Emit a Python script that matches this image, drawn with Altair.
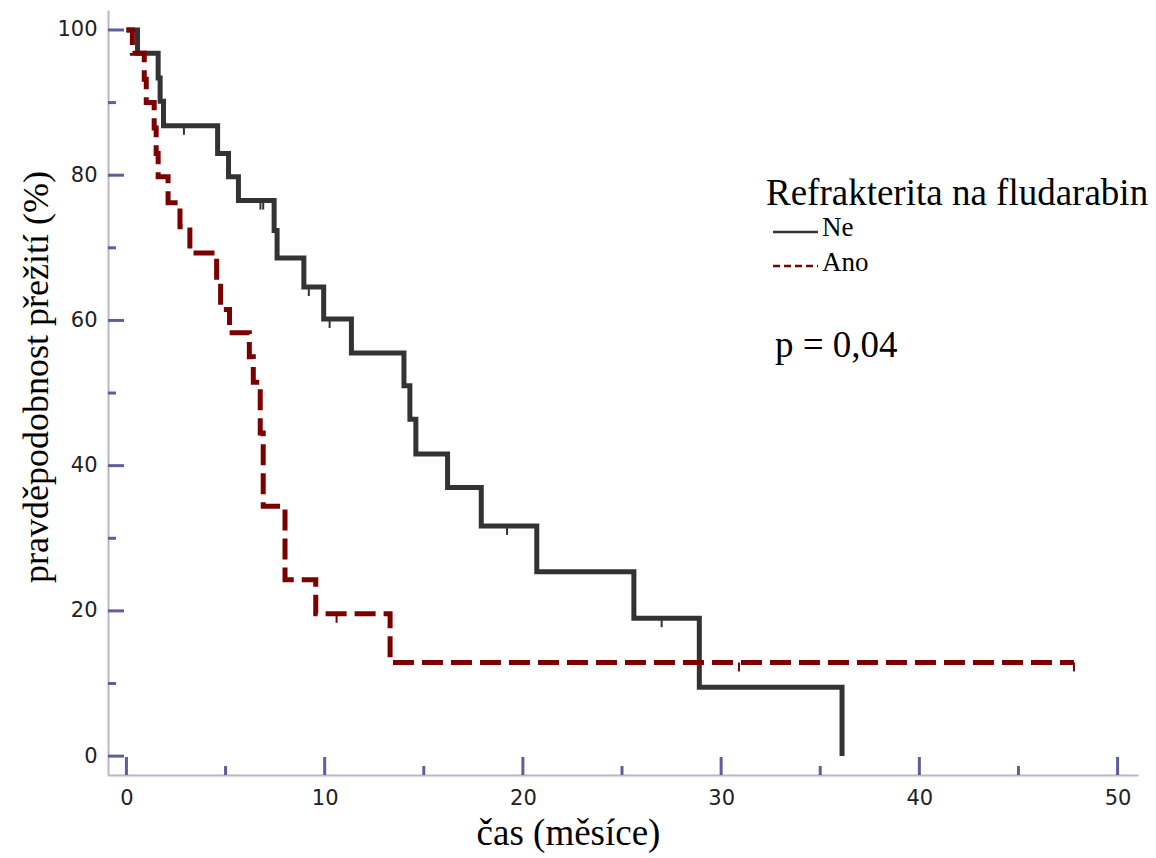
import altair as alt
import pandas as pd

# Kaplan-Meier curves: step times (months) and survival (%) after each step
ne_time = [0, 0.56, 1.6, 1.7, 1.87, 4.6, 5.15, 5.65, 7.45, 7.6, 8.95, 9.95,
           11.35, 14.0, 14.3, 14.6, 16.2, 17.9, 20.7, 25.6, 28.9, 36.1]
ne_surv = [100, 96.8, 93.4, 90.2, 86.8, 83.0, 79.8, 76.5, 72.4, 68.6, 64.6, 60.2,
           55.5, 51.0, 46.4, 41.6, 37.0, 31.7, 25.4, 19.0, 9.5, 0]

ano_time = [0, 0.3, 0.9, 1.0, 1.4, 1.5, 1.6, 2.1, 2.7, 3.2, 4.55, 4.75, 5.2,
            6.2, 6.4, 6.75, 6.9, 8.0, 9.55, 13.3, 47.8]
ano_surv = [100, 96.8, 93.2, 90.0, 86.5, 83.0, 79.8, 76.2, 72.9, 69.3, 65.2, 61.5, 58.3,
            55.0, 51.5, 44.5, 34.4, 24.3, 19.6, 12.9, 12.9]

# censored observations
ne_cens_time = [2.9, 6.76, 6.9, 9.2, 10.25, 19.2, 27.0]
ne_cens_surv = [86.8, 76.5, 76.5, 64.6, 60.2, 31.7, 19.0]
ano_cens_time = [10.6, 30.9, 47.8]
ano_cens_surv = [19.6, 12.9, 12.9]

group_labels = ["Ne", "Ano"]

x_major = [0, 10, 20, 30, 40, 50]
x_minor = [5, 15, 25, 35, 45]
y_major = [0, 20, 40, 60, 80, 100]
y_minor = [10, 30, 50, 70, 90]

W, H = 1030, 765
NE_COLOR = "#333333"
ANO_COLOR = "#7b0000"
TICK_COLOR = "#5e5e9e"
SERIF = "Liberation Serif"

xscale = alt.Scale(domain=[-0.93, 51.03], nice=False, zero=False)
yscale = alt.Scale(domain=[-2.6, 102.75], nice=False, zero=False)

xaxis = alt.Axis(
    values=x_major, title="čas (měsíce)", grid=False, ticks=False, tickSize=0,
    domainColor="#b8b8c8", domainWidth=2,
    labelFont="DejaVu Sans", labelFontSize=21, labelColor="#222222", labelPadding=12,
    labelFlush=False,
    titleFont=SERIF, titleFontSize=37, titleFontWeight="normal", titleColor="black",
    titleX=460, titleY=69, titleAlign="center", titleBaseline="alphabetic",
)
yaxis = alt.Axis(
    values=y_major, title=None, grid=False, ticks=False, tickSize=0,
    domainColor="#b8b8c8", domainWidth=2,
    labelFont="DejaVu Sans", labelFontSize=21, labelColor="#222222", labelPadding=11,
    labelFlush=False,
)

X = lambda: alt.X("t:Q", scale=xscale, axis=xaxis)
Y = lambda: alt.Y("s:Q", scale=yscale, axis=yaxis)

ne_df = pd.DataFrame({"t": ne_time, "s": ne_surv})
ano_df = pd.DataFrame({"t": ano_time, "s": ano_surv})
ne_c = pd.DataFrame({"t": ne_cens_time, "s": ne_cens_surv})
ano_c = pd.DataFrame({"t": ano_cens_time, "s": ano_cens_surv})

# inward-pointing axis ticks
xmaj = alt.Chart(pd.DataFrame({"t": x_major})).mark_rule(color=TICK_COLOR, strokeWidth=3).encode(
    x=X(), y=alt.value(H), y2=alt.value(H - 18))
xmin = alt.Chart(pd.DataFrame({"t": x_minor})).mark_rule(color=TICK_COLOR, strokeWidth=3).encode(
    x=X(), y=alt.value(H), y2=alt.value(H - 9))
ymaj = alt.Chart(pd.DataFrame({"s": y_major})).mark_rule(color=TICK_COLOR, strokeWidth=3).encode(
    y=Y(), x=alt.value(0), x2=alt.value(16))
ymin = alt.Chart(pd.DataFrame({"s": y_minor})).mark_rule(color=TICK_COLOR, strokeWidth=3).encode(
    y=Y(), x=alt.value(0), x2=alt.value(8))

ne_line = alt.Chart(ne_df).mark_line(
    interpolate="step-after", strokeWidth=5, strokeCap="butt", color=NE_COLOR
).encode(x=X(), y=Y())
ano_line = alt.Chart(ano_df).mark_line(
    interpolate="step-after", strokeWidth=5, strokeCap="butt", color=ANO_COLOR,
    strokeDash=[21, 8]
).encode(x=X(), y=Y())

ne_cens = alt.Chart(ne_c).mark_rule(color=NE_COLOR, strokeWidth=2, y2Offset=9).encode(
    x=X(), y=Y(), y2="s:Q")
ano_cens = alt.Chart(ano_c).mark_rule(color=ANO_COLOR, strokeWidth=2, y2Offset=9).encode(
    x=X(), y=Y(), y2="s:Q")

# y-axis title, legend and annotation
one = pd.DataFrame({"k": [0]})
y_title = alt.Chart(one).mark_text(
    text="pravděpodobnost přežití (%)", font=SERIF, fontSize=36, color="black",
    angle=270, align="center", baseline="middle"
).encode(x=alt.value(-71), y=alt.value(367))
leg_title = alt.Chart(one).mark_text(
    text="Refrakterita na fludarabin", font=SERIF, fontSize=37, color="black",
    align="left", baseline="alphabetic"
).encode(x=alt.value(658), y=alt.value(195))
leg_ne_sym = alt.Chart(one).mark_rule(color=NE_COLOR, strokeWidth=2.5).encode(
    x=alt.value(665), x2=alt.value(710), y=alt.value(222))
leg_ano_sym = alt.Chart(one).mark_rule(color=ANO_COLOR, strokeWidth=2.5, strokeDash=[7, 4]).encode(
    x=alt.value(665), x2=alt.value(710), y=alt.value(256))
leg_ne_txt = alt.Chart(one).mark_text(
    text=group_labels[0], font=SERIF, fontSize=27, color="black", align="left", baseline="alphabetic"
).encode(x=alt.value(714), y=alt.value(226))
leg_ano_txt = alt.Chart(one).mark_text(
    text=group_labels[1], font=SERIF, fontSize=27, color="black", align="left", baseline="alphabetic"
).encode(x=alt.value(714), y=alt.value(261))
p_txt = alt.Chart(one).mark_text(
    text="p = 0,04", font=SERIF, fontSize=37, color="black", align="left", baseline="alphabetic"
).encode(x=alt.value(667), y=alt.value(347))

chart = alt.layer(
    xmaj, xmin, ymaj, ymin,
    ne_line, ne_cens, ano_line, ano_cens,
    y_title, leg_title, leg_ne_sym, leg_ano_sym, leg_ne_txt, leg_ano_txt, p_txt,
).properties(
    width=W, height=H,
    padding={"left": 108, "top": 10, "right": 18, "bottom": 83},
    autosize=alt.AutoSizeParams(type="none"),
    background="white",
).configure_view(stroke=None)

chart.save("out.html", embed_options={"renderer": "svg", "actions": False})
